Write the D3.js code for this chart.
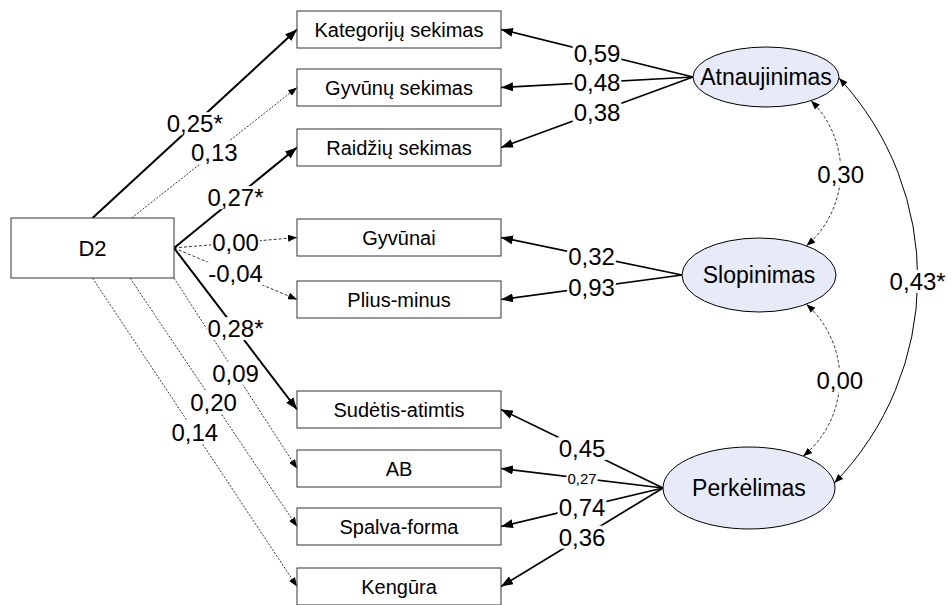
<!DOCTYPE html>
<html>
<head>
<meta charset="utf-8">
<script src="https://cdn.jsdelivr.net/npm/d3@7"></script>
<style>
  body { margin: 0; background: #fff; }
  text { font-family: "Liberation Sans", Arial, sans-serif; fill: #000; }
</style>
</head>
<body>
<div id="chart"></div>
<script>
// observed variables (boxes), top to bottom
var indicators = ["Kategorijų sekimas", "Gyvūnų sekimas", "Raidžių sekimas", "Gyvūnai", "Plius-minus",
                  "Sudėtis-atimtis", "AB", "Spalva-forma", "Kengūra"];
var predictor = "D2";
var factors = ["Atnaujinimas", "Slopinimas", "Perkėlimas"];
var factorOf = [0, 0, 0, 1, 1, 2, 2, 2, 2];

// D2 -> indicator paths
var d2Coef = [0.25, 0.13, 0.27, 0.00, -0.04, 0.28, 0.09, 0.20, 0.14];
var d2Sig = [true, false, true, false, false, true, false, false, false];

// factor loadings
var loadings = [0.59, 0.48, 0.38, 0.32, 0.93, 0.45, 0.27, 0.74, 0.36];

// factor covariances
var covFrom = [0, 1, 0];
var covTo = [1, 2, 2];
var covValues = [0.30, 0.00, 0.43];
var covSig = [false, false, true];

// ---- layout ----
var width = 951, height = 605;
var boxX = 297, boxW = 204, boxH = 37;
var rowY = [29.5, 87.5, 147.5, 237.5, 299.5, 409.5, 468.5, 526.5, 586.5];
var d2Box = { x: 11, y: 218, w: 163, h: 60 };
// where each path leaves the D2 box (fraction of width, height)
var d2Anchor = [[0.5, 0], [0.74, 0], [1, 0.5], [1, 0.5], [1, 0.5], [1, 0.5], [1, 1], [0.73, 1], [0.5, 1]];
var ell = [
  { cx: 766, cy: 77, rx: 73, ry: 30 },
  { cx: 759, cy: 275, rx: 77, ry: 37 },
  { cx: 749, cy: 488, rx: 86, ry: 41 }
];
var covAngle = [[52, -52], [52, -51], [2, -7]];
var covBulge = [32, 35, 81];
var smallLabel = { "load6": true };

var x = d3.scaleIdentity().domain([0, width]);
var y = d3.scaleIdentity().domain([0, height]);

var fmt = d3.formatLocale({ decimal: ",", thousands: " ", grouping: [3], currency: ["", ""], minus: "-" }).format(".2f");

var svg = d3.select("#chart")
    .append("svg")
    .attr("width", width)
    .attr("height", height);

var defs = svg.append("defs");
function marker(id, len, half) {
  defs.append("marker")
      .attr("id", id)
      .attr("markerUnits", "userSpaceOnUse")
      .attr("viewBox", "0 " + (-half) + " " + len + " " + (2 * half))
      .attr("refX", len)
      .attr("refY", 0)
      .attr("markerWidth", len)
      .attr("markerHeight", 2 * half)
      .attr("orient", "auto-start-reverse")
      .append("path")
      .attr("d", "M0," + (-half) + "L" + len + ",0L0," + half + "Z")
      .attr("fill", "#000");
}
marker("big", 12, 4.5);
marker("small", 9, 3.5);

var edges = svg.append("g");
var labels = svg.append("g");

function addLabel(px, py, txt, size) {
  var g = labels.append("g");
  var t = g.append("text")
      .attr("x", px)
      .attr("y", py)
      .attr("dy", "0.35em")
      .attr("text-anchor", "middle")
      .attr("font-size", size)
      .text(txt);
  var bb = t.node().getBBox();
  g.insert("rect", "text")
      .attr("x", bb.x - 1)
      .attr("y", bb.y + 2)
      .attr("width", bb.width + 2)
      .attr("height", bb.height - 4)
      .attr("fill", "#fff");
}

// D2 paths
indicators.forEach(function(name, i) {
  var x0 = x(d2Box.x + d2Anchor[i][0] * d2Box.w),
      y0 = y(d2Box.y + d2Anchor[i][1] * d2Box.h),
      x1 = x(boxX),
      y1 = y(rowY[i]);
  var ln = edges.append("line")
      .attr("x1", x0).attr("y1", y0)
      .attr("x2", x1).attr("y2", y1)
      .attr("stroke", "#000");
  if (d2Sig[i]) {
    ln.attr("stroke-width", 2).attr("marker-end", "url(#big)");
  } else {
    ln.attr("stroke-width", 0.8)
      .attr("stroke-dasharray", (i == 3 || i == 4) ? "3,2" : "2,1.5")
      .attr("marker-end", "url(#small)");
  }
  addLabel((x0 + x1) / 2, (y0 + y1) / 2, fmt(d2Coef[i]) + (d2Sig[i] ? "*" : ""), 24);
});

// loadings
indicators.forEach(function(name, i) {
  var e = ell[factorOf[i]];
  var x0 = x(e.cx - e.rx), y0 = y(e.cy),
      x1 = x(boxX + boxW), y1 = y(rowY[i]);
  edges.append("line")
      .attr("x1", x0).attr("y1", y0)
      .attr("x2", x1).attr("y2", y1)
      .attr("stroke", "#000")
      .attr("stroke-width", 1.7)
      .attr("marker-end", "url(#big)");
  addLabel((x0 + x1) / 2, (y0 + y1) / 2, fmt(loadings[i]), smallLabel["load" + i] ? 15 : 24);
});

// covariances (arcs)
function ellPoint(e, deg) {
  var a = deg * Math.PI / 180;
  return [x(e.cx + e.rx * Math.cos(a)), y(e.cy + e.ry * Math.sin(a))];
}
covValues.forEach(function(v, k) {
  var p0 = ellPoint(ell[covFrom[k]], covAngle[k][0]),
      p1 = ellPoint(ell[covTo[k]], covAngle[k][1]);
  var dx = p1[0] - p0[0], dy = p1[1] - p0[1], L = Math.sqrt(dx * dx + dy * dy);
  var s = covBulge[k];
  var r = (L * L / 4 + s * s) / (2 * s);
  // apex of the arc, to the right of the chord
  var nx = -dy / L, ny = dx / L;
  var apex = [(p0[0] + p1[0]) / 2 + nx * s, (p0[1] + p1[1]) / 2 + ny * s];
  if (apex[0] < (p0[0] + p1[0]) / 2) apex = [(p0[0] + p1[0]) / 2 - nx * s, (p0[1] + p1[1]) / 2 - ny * s];
  var path = edges.append("path")
      .attr("d", "M" + p0[0] + "," + p0[1] + "A" + r + "," + r + " 0 0 1 " + p1[0] + "," + p1[1])
      .attr("fill", "none")
      .attr("stroke", "#000")
      .attr("marker-start", "url(#small)")
      .attr("marker-end", "url(#small)");
  if (covSig[k]) {
    path.attr("stroke-width", 1);
  } else {
    path.attr("stroke-width", 0.8).attr("stroke-dasharray", "3,2");
  }
  addLabel(apex[0], apex[1], fmt(v) + (covSig[k] ? "*" : ""), 24);
});

// indicator boxes
var boxes = svg.append("g");
indicators.forEach(function(name, i) {
  boxes.append("rect")
      .attr("x", x(boxX)).attr("y", y(rowY[i] - boxH / 2))
      .attr("width", boxW).attr("height", boxH)
      .attr("fill", "#fff")
      .attr("stroke", "#333")
      .attr("stroke-width", 1);
  boxes.append("text")
      .attr("x", x(boxX + boxW / 2)).attr("y", y(rowY[i]))
      .attr("dy", "0.35em")
      .attr("text-anchor", "middle")
      .attr("font-size", 20)
      .text(name);
});

// D2 box
boxes.append("rect")
    .attr("x", x(d2Box.x)).attr("y", y(d2Box.y))
    .attr("width", d2Box.w).attr("height", d2Box.h)
    .attr("fill", "#fff")
    .attr("stroke", "#333");
boxes.append("text")
    .attr("x", x(d2Box.x + d2Box.w / 2)).attr("y", y(d2Box.y + d2Box.h / 2))
    .attr("dy", "0.35em")
    .attr("text-anchor", "middle")
    .attr("font-size", 22)
    .text(predictor);

// factors
factors.forEach(function(name, j) {
  var e = ell[j];
  boxes.append("ellipse")
      .attr("cx", x(e.cx)).attr("cy", y(e.cy))
      .attr("rx", e.rx).attr("ry", e.ry)
      .attr("fill", "#e6ebf7")
      .attr("stroke", "#000");
  boxes.append("text")
      .attr("x", x(e.cx)).attr("y", y(e.cy))
      .attr("dy", "0.35em")
      .attr("text-anchor", "middle")
      .attr("font-size", 23)
      .text(name);
});
</script>
</body>
</html>
